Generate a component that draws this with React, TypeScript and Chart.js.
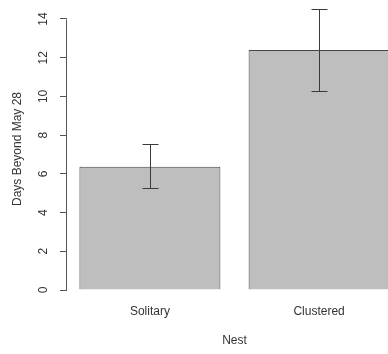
import React, { useEffect, useRef } from 'react';
import { Chart, registerables } from 'chart.js';

Chart.register(...registerables);

const categories = ['Solitary', 'Clustered'];
const meanDays = [6.37, 12.4];
const errLower = [5.28, 10.27];
const errUpper = [7.54, 14.5];
const yTicks = [0, 2, 4, 6, 8, 10, 12, 14];
const yTitle = 'Days Beyond May 28';
const xTitle = 'Nest';

// R barplot layout: bar width 1, space 0.2 between bars
const barPositions = categories.map((_, i) => 0.2 + i * 1.2 + 0.5);

const FONT = { family: '"Liberation Sans", Arial, Helvetica, sans-serif', size: 12 };
const TEXT = '#333';
const AXIS = '#555';

const errorBarPlugin = {
  id: 'errorBars',
  afterDatasetsDraw(chart: any) {
    const { ctx, scales } = chart;
    const x = scales.x;
    const y = scales.y;
    ctx.save();
    ctx.lineWidth = 1;
    ctx.strokeStyle = '#3a3a3a';
    barPositions.forEach((p, i) => {
      const px = Math.round(x.getPixelForValue(p)) + 0.5;
      const yl = Math.round(y.getPixelForValue(errLower[i])) + 0.5;
      const yh = Math.round(y.getPixelForValue(errUpper[i])) + 0.5;
      const half = 8;
      ctx.beginPath();
      ctx.moveTo(px, yl);
      ctx.lineTo(px, yh);
      ctx.moveTo(px - half, yl);
      ctx.lineTo(px + half, yl);
      ctx.moveTo(px - half, yh);
      ctx.lineTo(px + half, yh);
      ctx.stroke();
    });
    // y axis line spanning first to last tick (R style)
    const ax = Math.round(chart.chartArea.left) - 0.5;
    ctx.strokeStyle = AXIS;
    ctx.beginPath();
    ctx.moveTo(ax, Math.round(y.getPixelForValue(yTicks[0])) + 0.5);
    ctx.lineTo(ax, Math.round(y.getPixelForValue(yTicks[yTicks.length - 1])) + 0.5);
    ctx.stroke();
    ctx.restore();
  },
};

export default function App() {
  const ref = useRef<HTMLCanvasElement>(null);

  useEffect(() => {
    if (!ref.current) return;
    const chart = new Chart(ref.current, {
      type: 'bar',
      data: {
        datasets: [
          {
            data: meanDays.map((v, i) => ({ x: barPositions[i], y: v })),
            backgroundColor: '#bebebe',
            borderColor: '#444',
            borderWidth: 1,
            barPercentage: 1,
            categoryPercentage: 1 / 1.2,
          },
        ],
      },
      options: {
        responsive: false,
        animation: false,
        devicePixelRatio: 1,
        layout: { padding: { top: 8, left: 0, right: 0, bottom: 0 } },
        plugins: { legend: { display: false }, tooltip: { enabled: false } },
        scales: {
          x: {
            type: 'linear',
            offset: false,
            min: 0.112,
            max: 2.488,
            grid: { display: false, drawTicks: false, offset: false },
            border: { display: false },
            afterBuildTicks: (s: any) => {
              s.ticks = barPositions.map((v) => ({ value: v }));
            },
            afterFit: (s: any) => {
              s.height = 64;
              s.paddingLeft = 0;
              s.paddingRight = 0;
            },
            ticks: {
              autoSkip: false,
              maxRotation: 0,
              minRotation: 0,
              padding: 14,
              color: TEXT,
              font: FONT,
              callback: (_v: any, i: number) => categories[i],
            },
            title: {
              display: true,
              text: xTitle,
              color: TEXT,
              font: FONT,
              padding: { top: 0, bottom: 6 },
            },
          },
          y: {
            type: 'linear',
            min: 0,
            max: 14.568,
            afterBuildTicks: (s: any) => {
              s.ticks = yTicks.map((v) => ({ value: v }));
            },
            afterFit: (s: any) => {
              s.width = 67;
              s.paddingTop = 0;
              s.paddingBottom = 0;
            },
            grid: {
              drawOnChartArea: false,
              drawTicks: true,
              tickLength: 7,
              color: AXIS,
              tickColor: AXIS,
            },
            border: { display: false },
            ticks: {
              minRotation: 90,
              maxRotation: 90,
              crossAlign: 'center',
              padding: 10,
              color: TEXT,
              font: FONT,
            },
            title: {
              display: true,
              text: yTitle,
              color: TEXT,
              font: FONT,
              padding: { top: 10, bottom: 0 },
            },
          },
        },
      } as any,
      plugins: [errorBarPlugin],
    });
    return () => chart.destroy();
  }, []);

  return (
    <div
      style={{
        position: 'fixed',
        left: 0,
        top: 0,
        width: 388,
        height: 354,
        overflow: 'hidden',
        background: '#fff',
      }}
    >
      <canvas ref={ref} width={402} height={354} style={{ display: 'block' }} />
    </div>
  );
}
